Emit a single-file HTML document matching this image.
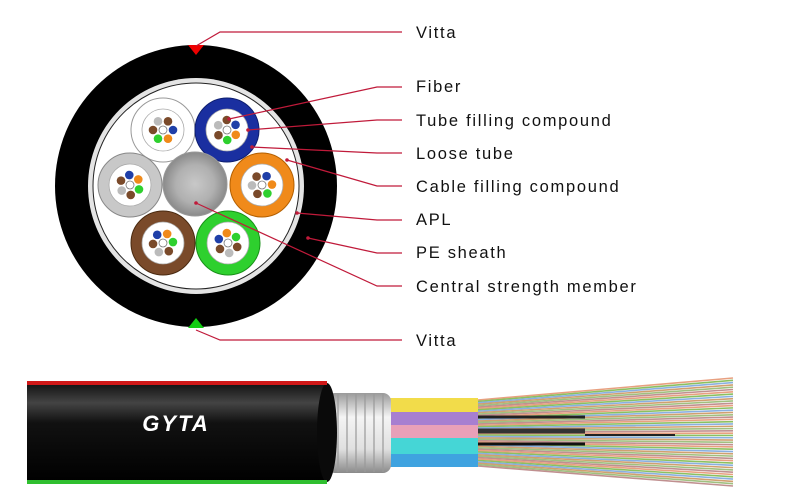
<!DOCTYPE html>
<html><head><meta charset="utf-8"><style>
html,body{margin:0;padding:0;background:#fff;width:796px;height:493px;overflow:hidden}
svg{display:block}
text{font-family:"Liberation Sans",sans-serif;font-size:16.5px;fill:#111;letter-spacing:1.7px}
</style></head><body>
<svg id="s" width="796" height="493" viewBox="0 0 796 493" xmlns="http://www.w3.org/2000/svg">
<defs>
<radialGradient id="steel" cx="50%" cy="50%" r="50%">
<stop offset="0" stop-color="#c8c8c8"/><stop offset="0.6" stop-color="#b0b0b0"/><stop offset="1" stop-color="#8a8a8a"/>
</radialGradient>
<linearGradient id="jacket" x1="0" y1="0" x2="0" y2="1">
<stop offset="0" stop-color="#111"/><stop offset="0.2" stop-color="#444"/><stop offset="0.4" stop-color="#111"/><stop offset="1" stop-color="#000"/>
</linearGradient>
<linearGradient id="armor" x1="0" y1="0" x2="0" y2="1">
<stop offset="0" stop-color="#9a9a9a"/><stop offset="0.3" stop-color="#f4f4f4"/><stop offset="0.7" stop-color="#e0e0e0"/><stop offset="1" stop-color="#8a8a8a"/>
</linearGradient>
</defs>
<circle cx="196" cy="186" r="141" fill="#000"/>
<circle cx="196" cy="186" r="108" fill="#e4e4e4"/>
<circle cx="196" cy="186" r="103" fill="#fff" stroke="#222" stroke-width="1"/>
<polygon points="188,45 204,45 196,55" fill="#e00"/>
<polygon points="188,328 204,328 196,318" fill="#1c1"/>
<g id="tubes"></g>
<circle cx="195" cy="184" r="32" fill="url(#steel)" stroke="#999"/>
<g stroke="#c01a3a" stroke-width="1.2" fill="none">
<polyline points="196,46 220,32 402,32"/>
<polyline points="229,119 377,87 402,87"/>
<polyline points="248,130 377,120 402,120"/>
<polyline points="252,147 377,153 402,153"/>
<polyline points="287,160 377,186 402,186"/>
<polyline points="297,213 377,220 402,220"/>
<polyline points="308,238 377,253 402,253"/>
<polyline points="196,203 377,286 402,286"/>
<polyline points="196,330 220,340 402,340"/>
</g>
<g fill="#c01a3a">
<circle cx="229" cy="119" r="1.8"/><circle cx="248" cy="130" r="1.8"/><circle cx="252" cy="147" r="1.8"/>
<circle cx="287" cy="160" r="1.8"/><circle cx="297" cy="213" r="1.8"/><circle cx="308" cy="238" r="1.8"/><circle cx="196" cy="203" r="1.8"/>
</g>
<text x="416" y="38">Vitta</text>
<text x="416" y="92">Fiber</text>
<text x="416" y="126">Tube filling compound</text>
<text x="416" y="159">Loose tube</text>
<text x="416" y="192">Cable filling compound</text>
<text x="416" y="225">APL</text>
<text x="416" y="258">PE sheath</text>
<text x="416" y="292">Central strength member</text>
<text x="416" y="346">Vitta</text>
<g id="fibers"></g>
<rect x="390" y="398" width="88" height="14" fill="#f2dc4a"/>
<rect x="390" y="412" width="88" height="13" fill="#a77fd0"/>
<rect x="390" y="425" width="88" height="13" fill="#e9a0b8"/>
<rect x="390" y="438" width="88" height="16" fill="#45d6d6"/>
<rect x="390" y="454" width="88" height="13" fill="#3fa3e0"/>
<rect x="327" y="393" width="64" height="80" rx="8" fill="url(#armor)"/>
<g stroke="#999" stroke-width="1.2">
<line x1="338" y1="394" x2="338" y2="472"/><line x1="347" y1="394" x2="347" y2="472"/><line x1="356" y1="394" x2="356" y2="472"/>
<line x1="365" y1="394" x2="365" y2="472"/><line x1="374" y1="394" x2="374" y2="472"/><line x1="383" y1="394" x2="383" y2="472"/>
</g>
<rect x="27" y="383" width="300" height="99" fill="url(#jacket)"/>
<ellipse cx="327" cy="432.5" rx="10" ry="49.5" fill="#0a0a0a"/>
<rect x="27" y="381" width="300" height="4" fill="#d01818"/>
<rect x="27" y="480" width="300" height="4" fill="#2fbf2f"/>
<text x="176" y="431" style="font-size:22px;font-style:italic;fill:#fff;font-weight:bold;letter-spacing:2px" text-anchor="middle">GYTA</text>
</svg>
<script>
var NS="http://www.w3.org/2000/svg";
function el(p,t,a){var e=document.createElementNS(NS,t);for(var k in a)e.setAttribute(k,a[k]);p.appendChild(e);return e;}
var tg=document.getElementById('tubes');
var tubes=[[163,130,"#fff","#999"],[227,130,"#1a2fa0","#0e1f70"],[262,185,"#f08a1a","#b35f00"],[130,185,"#c8c8c8","#888"],[163,243,"#7a4a2a","#4a2a10"],[228,243,"#2ed02e","#189018"]];
var fc=["#1f3fa8","#f08a1a","#2ed02e","#7a4a2a","#bbb","#7a4a2a"];
tubes.forEach(function(t,i){
 el(tg,'circle',{cx:t[0],cy:t[1],r:32,fill:t[2],stroke:t[3],'stroke-width':1});
 el(tg,'circle',{cx:t[0],cy:t[1],r:21,fill:'#fff',stroke:'#aaa','stroke-width':0.8});
 el(tg,'circle',{cx:t[0],cy:t[1],r:4,fill:'#fff',stroke:'#777','stroke-width':0.8});
 for(var j=0;j<6;j++){var a=j*Math.PI/3+i*0.5;el(tg,'circle',{cx:t[0]+10*Math.cos(a),cy:t[1]+10*Math.sin(a),r:4.3,fill:fc[(j+i)%6]});}
});
var fg=document.getElementById('fibers');
var cols=["#e8a080","#8cc060","#8ab0e0","#d0a070","#a0c080","#c09090"];
for(var i=0;i<48;i++){var f=i/47;
 el(fg,'line',{x1:478,y1:400+f*66,x2:733,y2:378+f*108,stroke:cols[i%6],'stroke-width':1.6});}
el(fg,'line',{x1:478,y1:417,x2:585,y2:417,stroke:'#222','stroke-width':3});
el(fg,'line',{x1:478,y1:431,x2:585,y2:431,stroke:'#333','stroke-width':5});
el(fg,'line',{x1:478,y1:444,x2:585,y2:444,stroke:'#111','stroke-width':3});
el(fg,'line',{x1:585,y1:435,x2:675,y2:435,stroke:'#222','stroke-width':2});
</script>
</body></html>
